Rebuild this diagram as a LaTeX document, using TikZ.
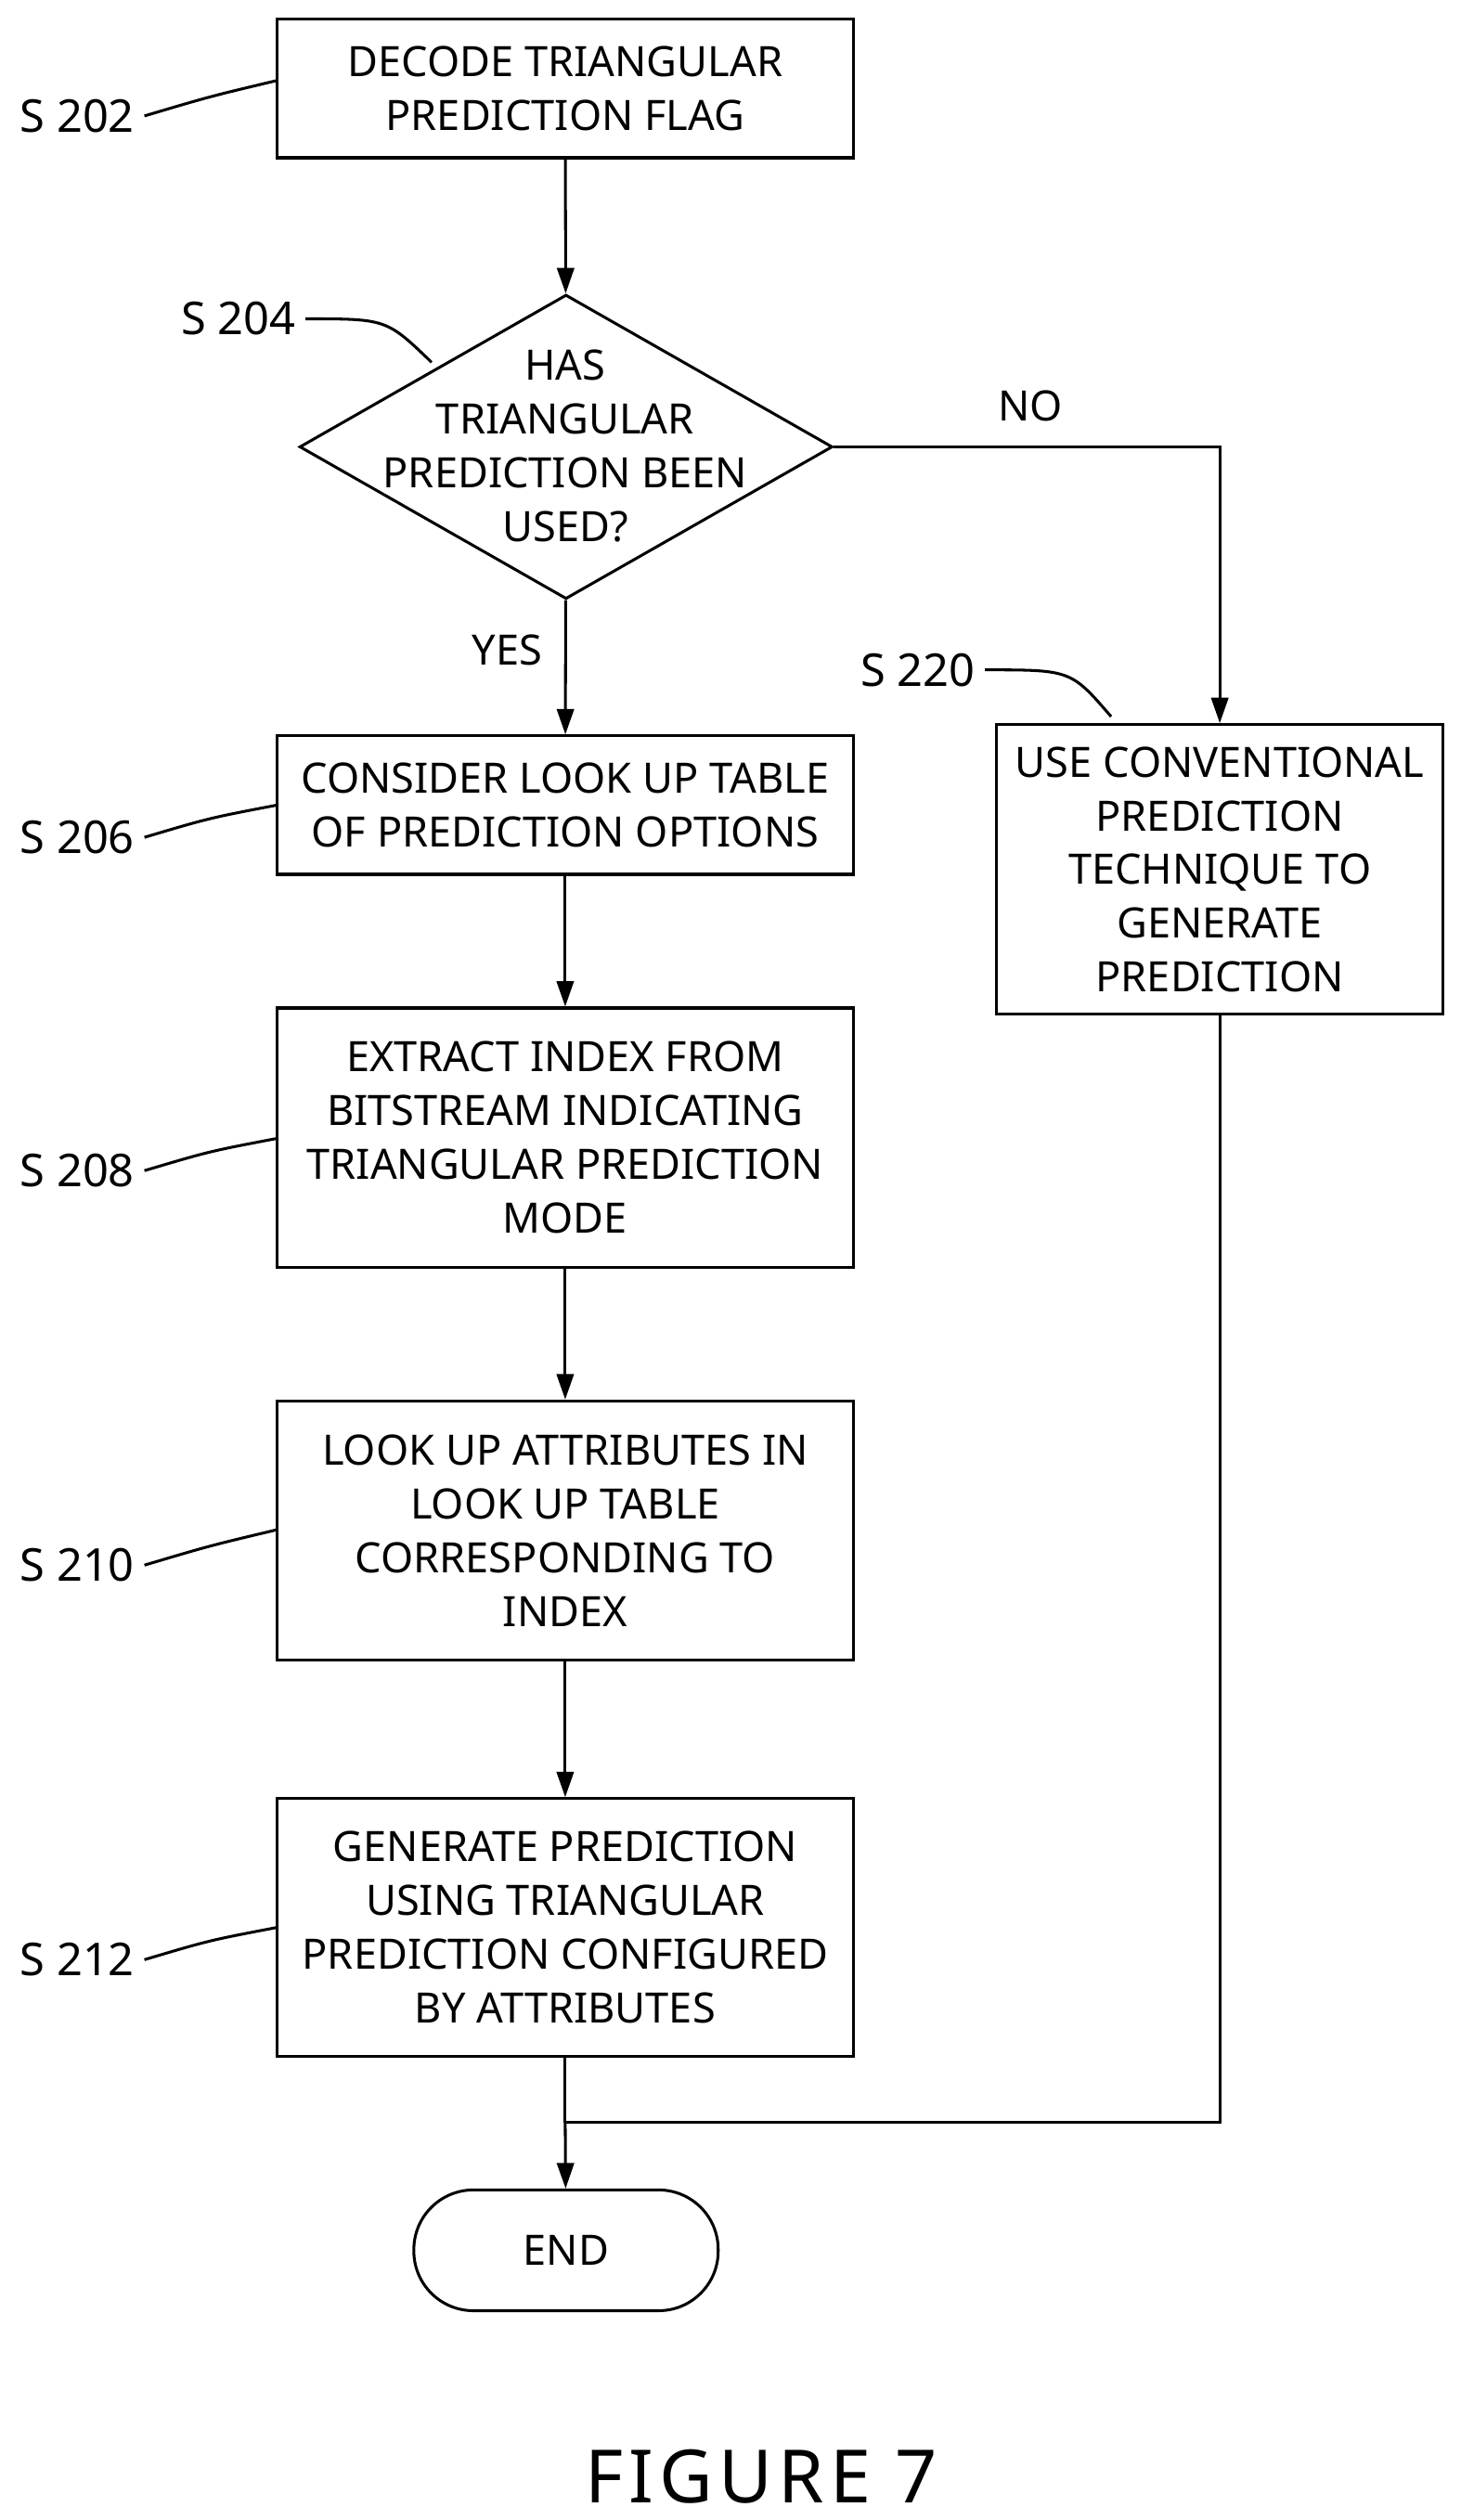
\documentclass[tikz,border=0pt]{standalone}
\usepackage{fontspec}
\setmainfont{Noto Sans}
\usetikzlibrary{shapes.geometric,arrows.meta}
\begin{document}
\begin{tikzpicture}[x=0.02cm,y=-0.02cm,
  every node/.style={font=\fontsize{14.8}{19}\selectfont, align=center},
  box/.style={draw,line width=1pt,inner sep=0pt},
  ln/.style={line width=1pt},
  arr/.style={ln,-{Triangle[length=9pt,width=6pt]}},
  lab/.style={font=\fontsize{16}{19}\selectfont}]
\useasboundingbox (0,0) rectangle (907,1565);
\node[box,minimum width=358*0.02cm,minimum height=86*0.02cm] (s202) at (351,55) {DECODE TRIANGULAR\\PREDICTION FLAG};
\node[draw,line width=1pt,diamond,aspect=1.75,minimum width=331*0.02cm,minimum height=189*0.02cm,inner sep=0pt] (s204) at (351.5,277.5) {};
\node at (351,277) {HAS\\TRIANGULAR\\PREDICTION BEEN\\USED?};
\node[box,minimum width=358*0.02cm,minimum height=86*0.02cm] (s206) at (351,500) {CONSIDER LOOK UP TABLE\\OF PREDICTION OPTIONS};
\node[box,minimum width=358*0.02cm,minimum height=161*0.02cm] (s208) at (351,706.5) {EXTRACT INDEX FROM\\BITSTREAM INDICATING\\TRIANGULAR PREDICTION\\MODE};
\node[box,minimum width=358*0.02cm,minimum height=161*0.02cm] (s210) at (351,950.5) {LOOK UP ATTRIBUTES IN\\LOOK UP TABLE\\CORRESPONDING TO\\INDEX};
\node[box,minimum width=358*0.02cm,minimum height=160*0.02cm] (s212) at (351,1197) {GENERATE PREDICTION\\USING TRIANGULAR\\PREDICTION CONFIGURED\\BY ATTRIBUTES};
\node[box,minimum width=277*0.02cm,minimum height=180*0.02cm] (s220) at (757.5,540) {USE CONVENTIONAL\\PREDICTION\\TECHNIQUE TO\\GENERATE\\PREDICTION};
\node[box,rounded corners=37*0.02cm,minimum width=189*0.02cm,minimum height=75*0.02cm] (end) at (351.5,1397.5) {END};
\coordinate (m) at (351,1318);
\coordinate (nc) at (757.5,277.5);
\draw[arr] (s202) -- (s204);
\draw[arr] (s204) -- (s206);
\draw[arr] (s206) -- (s208);
\draw[arr] (s208) -- (s210);
\draw[arr] (s210) -- (s212);
\draw[ln] (s212) -- (m);
\draw[arr] (m) -- (end);
\draw[arr] (s204.east) -- (nc) -- (s220);
\draw[ln] (s220.south) |- (m);
\node at (640,252) {NO};
\node at (315,404) {YES};
\node[lab] (l202) at (48,72) {S 202};
\node[lab] (l204) at (148,198) {S 204};
\node[lab] (l206) at (48,520) {S 206};
\node[lab] (l208) at (48,727) {S 208};
\node[lab] (l210) at (48,972) {S 210};
\node[lab] (l212) at (48,1217) {S 212};
\node[lab] (l220) at (570,416) {S 220};
\draw[ln] (l202.east) .. controls (130,60) .. (172,50);
\draw[ln] (l204.east) .. controls (240,198) .. (268,225);
\draw[ln] (l206.east) .. controls (130,508) .. (172,500);
\draw[ln] (l208.east) .. controls (130,715) .. (172,707);
\draw[ln] (l210.east) .. controls (130,960) .. (172,950);
\draw[ln] (l212.east) .. controls (130,1205) .. (172,1197);
\draw[ln] (l220.east) .. controls (665,416) .. (690,445);
\node[font=\fontsize{26}{30}\selectfont] (fig) at (473,1538) {F\kern2pt I\kern2pt G\kern2pt U\kern2pt R\kern2pt E\kern2pt\ 7};
\end{tikzpicture}
\end{document}
